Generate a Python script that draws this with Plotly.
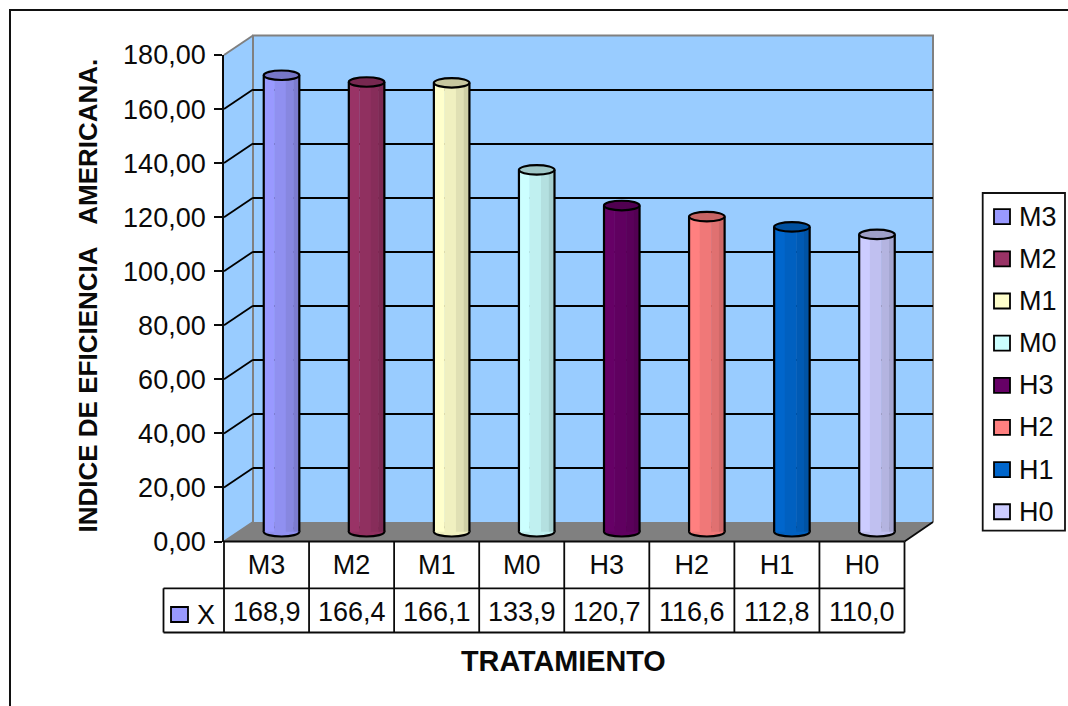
import plotly.graph_objects as go

categories = ["M3", "M2", "M1", "M0", "H3", "H2", "H1", "H0"]
values = [168.9, 166.4, 166.1, 133.9, 120.7, 116.6, 112.8, 110.0]
colors = ["#9999FF", "#993366", "#FFFFCC", "#CCFFFF", "#660066", "#FF8080", "#0066CC", "#CCCCFF"]
y_ticks = [0, 20, 40, 60, 80, 100, 120, 140, 160, 180]
series_name = "X"

W, H = 1068, 706
FONT = "Liberation Sans, Arial, sans-serif"
FS = 27
INK = "#0a0a0a"

# geometry of the pseudo-3D box, in pixels
FX0, FX1, FY0, FY1 = 224, 904.5, 541.5, 55       # front plane
BX0, BX1, BY0, BY1 = 253, 933, 522, 35.5         # back wall
MX0, MX1, MY0, MY1 = 239, 919.5, 531.75, 45.25   # plane of the cylinders
Y_BELOW = -10                                    # room under zero so the base ellipses are not clipped
MY0_EXT = MY0 + (MY0 - MY1) * (-Y_BELOW) / y_ticks[-1]


def px(x):
    return x / W


def py(y):
    return 1 - y / H


def shade(hex_color, f):
    r, g, b = (int(hex_color[i:i + 2], 16) for i in (1, 3, 5))
    return f"rgb({r * f:.0f},{g * f:.0f},{b * f:.0f})"


x_idx = list(range(len(categories)))
half_w = 0.209
half_h = 1.76
strip_fracs = [0.30, 0.32, 0.22, 0.16]
strip_shades = [1.0, 0.94, 0.88, 0.81]

fig = go.Figure()

# back-wall subplot (only gridlines)
fig.add_trace(go.Scatter(x=[], y=[], xaxis="x", yaxis="y", showlegend=False))

# cylinders
left = -half_w
for frac, f in zip(strip_fracs, strip_shades):
    width = frac * 2 * half_w
    fig.add_trace(go.Bar(
        x=x_idx, y=values, xaxis="x2", yaxis="y2", width=width + 0.003, offset=left,
        marker=dict(color=[shade(c, f) for c in colors], line=dict(width=0)),
        showlegend=False, hoverinfo="skip",
    ))
    left += width

ox, oy = [], []
for i, v in zip(x_idx, values):
    ox += [i - half_w, i - half_w, None, i + half_w, i + half_w, None]
    oy += [0, v, None, 0, v, None]
fig.add_trace(go.Scatter(
    x=ox, y=oy, xaxis="x2", yaxis="y2", mode="lines",
    line=dict(color="black", width=2.2), showlegend=False, hoverinfo="skip", cliponaxis=False,
))

# front subplot (axis labels)
fig.add_trace(go.Scatter(x=[], y=[], xaxis="x3", yaxis="y3", showlegend=False))

shapes = []


def path(points, fill=None, color=None, width=0, layer="below"):
    d = "M " + " L ".join(f"{px(x):.5f},{py(y):.5f}" for x, y in points)
    if fill:
        d += " Z"
    shapes.append(dict(type="path", xref="paper", yref="paper", path=d, fillcolor=fill or "rgba(0,0,0,0)",
                       line=dict(color=color or "rgba(0,0,0,0)", width=width), layer=layer))


GREY = "#808080"
# walls and floor
path([(BX0, BY0), (BX1, BY0), (BX1, BY1), (BX0, BY1)], fill="#99CCFF")
path([(FX0, FY0), (BX0, BY0), (BX0, BY1), (FX0, FY1)], fill="#99CCFF")
path([(FX0, FY0), (FX1, FY0), (BX1, BY0), (BX0, BY0)], fill=GREY)
path([(FX0, FY0), (BX0, BY0), (BX0, BY1), (BX1, BY1), (BX1, BY0)], color=GREY, width=2)
path([(FX0, FY1), (BX0, BY1)], color=GREY, width=2)

# diagonal gridlines on the side wall
for t in y_ticks[1:-1]:
    k = t / y_ticks[-1]
    path([(FX0, FY0 + (FY1 - FY0) * k), (BX0, BY0 + (BY1 - BY0) * k)], color="black", width=1.8)

# table under the chart
T1, T2 = 588.3, 632.5
TX0 = 163.5
cell = (FX1 - FX0) / len(categories)
path([(FX1, FY0), (BX1, BY0)], color=INK, width=1.8, layer="above")
path([(FX0, FY0), (FX1, FY0)], color=INK, width=2.2, layer="above")
path([(TX0, T1), (FX1, T1)], color=INK, width=1.8, layer="above")
path([(TX0, T2), (FX1, T2)], color=INK, width=1.8, layer="above")
path([(TX0, T1), (TX0, T2)], color=INK, width=1.8, layer="above")
for i in range(len(categories) + 1):
    xx = FX0 + cell * i
    path([(xx, FY0), (xx, T2)], color=INK, width=1.8, layer="above")

# key in the table
shapes.append(dict(type="rect", xref="paper", yref="paper", x0=px(171), x1=px(188), y0=py(622), y1=py(607),
                   fillcolor=colors[0], line=dict(color="black", width=1.8)))

# outer frame: left and top edges
path([(10, H + 5), (10, 10), (W + 5, 10)], color="#111111", width=2, layer="above")

# cylinder caps and bases
for i, v, c in zip(x_idx, values, colors):
    shapes.append(dict(type="circle", xref="x2", yref="y2", x0=i - half_w, x1=i + half_w, y0=-half_h, y1=half_h,
                       fillcolor=shade(c, 0.94), line=dict(color="black", width=2.2), layer="below"))
    shapes.append(dict(type="circle", xref="x2", yref="y2", x0=i - half_w, x1=i + half_w, y0=v - half_h, y1=v + half_h,
                       fillcolor=shade(c, 0.78), line=dict(color="black", width=2.2), layer="above"))

annotations = []


def text(x, y, s, xref="paper", size=FS, bold=False, angle=0, xanchor="center"):
    annotations.append(dict(
        x=x, y=py(y), xref=xref, yref="paper", text=f"<b>{s}</b>" if bold else s, showarrow=False,
        xanchor=xanchor, yanchor="middle", textangle=angle, font=dict(family=FONT, size=size, color=INK),
    ))


# value row of the table
for i, v in zip(x_idx, values):
    text(i, 612, f"{v:.1f}".replace(".", ","), xref="x3")
text(px(205.5), 614.5, series_name)

# axis titles
text(px(563), 660.5, "TRATAMIENTO", size=28.8, bold=True)
text(px(87.5), 296, "INDICE DE EFICIENCIA\u00a0\u00a0\u00a0AMERICANA.", size=26, bold=True, angle=-90)

# legend
LX0, LX1, LY0, LY1 = 982.7, 1065, 193, 530.7
shapes.append(dict(type="rect", xref="paper", yref="paper", x0=px(LX0), x1=px(LX1), y0=py(LY1), y1=py(LY0),
                   fillcolor="white", line=dict(color="#111111", width=1.8)))
for i, (name, c) in enumerate(zip(categories, colors)):
    yc = 216.7 + 42.15 * i
    shapes.append(dict(type="rect", xref="paper", yref="paper", x0=px(994), x1=px(1010), y0=py(yc + 7.5), y1=py(yc - 7.5),
                       fillcolor=c, line=dict(color="black", width=1.8)))
    text(px(1016.5), yc, name, xanchor="left")

hidden = dict(visible=False, fixedrange=True)
fig.update_layout(
    width=W, height=H, autosize=False, margin=dict(l=0, r=0, t=0, b=0, autoexpand=False),
    paper_bgcolor="white", plot_bgcolor="rgba(0,0,0,0)", separators=",.",
    barmode="overlay", showlegend=False, shapes=shapes, annotations=annotations,
    font=dict(family=FONT, size=FS, color=INK),
    xaxis=dict(domain=[px(BX0), px(BX1)], range=[-0.5, 7.5], anchor="y", **hidden),
    yaxis=dict(domain=[py(BY0), py(BY1)], range=[0, 180], anchor="x", visible=True, showgrid=True,
               gridcolor="black", gridwidth=1.8, tickvals=y_ticks[1:-1], showticklabels=False,
               ticks="", showline=False, zeroline=False, fixedrange=True),
    xaxis2=dict(domain=[px(MX0), px(MX1)], range=[-0.5, 7.5], anchor="y2", **hidden),
    yaxis2=dict(domain=[py(MY0_EXT), py(MY1)], range=[Y_BELOW, y_ticks[-1]], anchor="x2", **hidden),
    xaxis3=dict(domain=[px(FX0), px(FX1)], range=[-0.5, 7.5], anchor="y3", tickvals=x_idx, ticktext=categories,
                ticks="", showline=False, showgrid=False, zeroline=False, ticklabelstandoff=4, fixedrange=True),
    yaxis3=dict(domain=[py(FY0), py(FY1)], range=[0, 180], anchor="x3", tickvals=y_ticks, tickformat=".2f",
                ticks="outside", ticklen=8, tickwidth=1.8, tickcolor=INK, showline=True, linecolor=INK, linewidth=1.8,
                showgrid=False, zeroline=False, ticklabelstandoff=3, fixedrange=True),
)

fig.write_html("out.html", config={"displayModeBar": False},
               post_script="document.body.style.margin='0';document.body.style.overflow='hidden';")
